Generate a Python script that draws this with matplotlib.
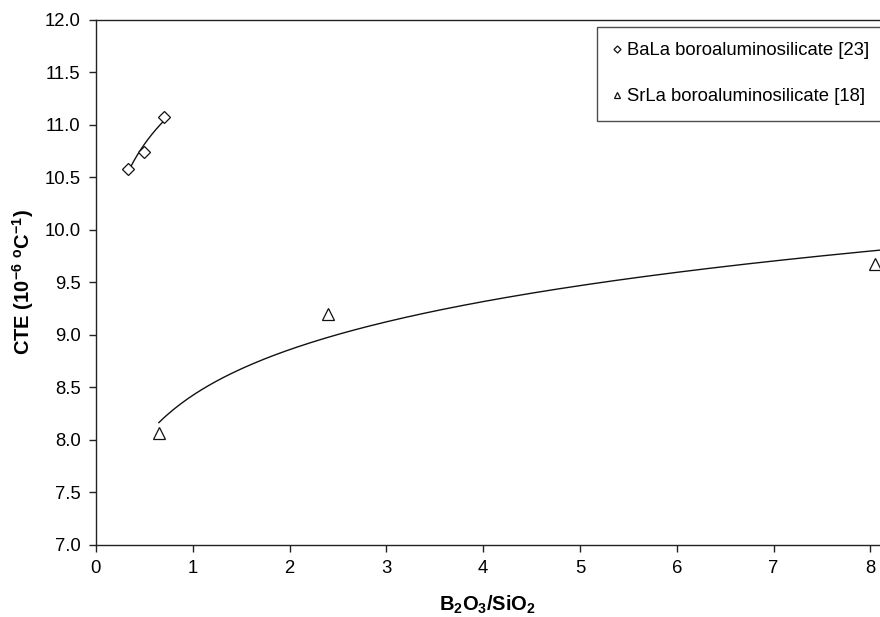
import numpy as np
import matplotlib
matplotlib.use("Agg")
import matplotlib.pyplot as plt
from matplotlib import rcParams

rcParams.update({"font.family": ["Liberation Sans", "DejaVu Sans"], "font.size": 13.3,
                 "mathtext.fontset": "custom", "mathtext.rm": "Liberation Sans",
                 "mathtext.bf": "Liberation Sans:bold", "mathtext.it": "Liberation Sans:italic"})

# BaLa boroaluminosilicate [23]
bala_x = [0.33, 0.50, 0.70]
bala_y = [10.58, 10.74, 11.08]
# SrLa boroaluminosilicate [18]
srla_x = [0.65, 2.40, 8.05]
srla_y = [8.07, 9.20, 9.68]

labels = ["BaLa boroaluminosilicate [23]", "SrLa boroaluminosilicate [18]"]
xticks = [0, 1, 2, 3, 4, 5, 6, 7, 8]
yticks = [7.0, 7.5, 8.0, 8.5, 9.0, 9.5, 10.0, 10.5, 11.0, 11.5, 12.0]


def power_fit(x, y):
    # least squares in log-log space (power trend line)
    b, lna = np.polyfit(np.log(x), np.log(y), 1)
    return np.exp(lna), b


fig = plt.figure(figsize=(8.8, 6.17), dpi=100)
ax = fig.add_axes([0.109, 0.1167, 0.891, 0.851])

for xs, ys, mk, ms, lab, xend in [(bala_x, bala_y, "D", 6.5, labels[0], None),
                                  (srla_x, srla_y, "^", 8, labels[1], 8.1)]:
    a, b = power_fit(xs, ys)
    xf = np.linspace(min(xs), xend if xend else max(xs), 200)
    ax.plot(xf, a * xf ** b, color="#111111", lw=1.0)
    ax.plot(xs, ys, ls="none", marker=mk, ms=ms, mfc="white", mec="#111111", mew=0.9,
            label=lab)

ax.set_xlim(0, 8.1)
ax.set_ylim(7.0, 12.0)
ax.set_xticks(xticks)
ax.set_yticks(yticks)
ax.set_yticklabels([f"{v:.1f}" for v in yticks])
ax.spines["right"].set_visible(False)
for s in ["top", "left", "bottom"]:
    ax.spines[s].set_linewidth(1.0)
    ax.spines[s].set_color("#222222")
ax.tick_params(direction="out", length=5, width=1, color="#222222", labelsize=13.3, pad=6)

ax.set_xlabel(r"B$_\mathbf{2}$O$_\mathbf{3}$/SiO$_\mathbf{2}$", fontweight="bold",
              fontsize=14.5, labelpad=12)
ax.set_ylabel(r"CTE (10$^{\mathbf{-6}}$ $^{\mathbf{o}}$C$^{\mathbf{-1}}$)", fontweight="bold",
              fontsize=14.5, labelpad=6)

leg = ax.legend(loc="upper left", bbox_to_anchor=(0.639, 0.987), frameon=True, fancybox=False,
                edgecolor="#222222", handlelength=0.5, handletextpad=0.3, labelspacing=1.55,
                borderpad=0.85, borderaxespad=0, fontsize=13.3, markerscale=0.55)
leg.get_frame().set_linewidth(1.0)

fig.savefig("out.png", dpi=100)
